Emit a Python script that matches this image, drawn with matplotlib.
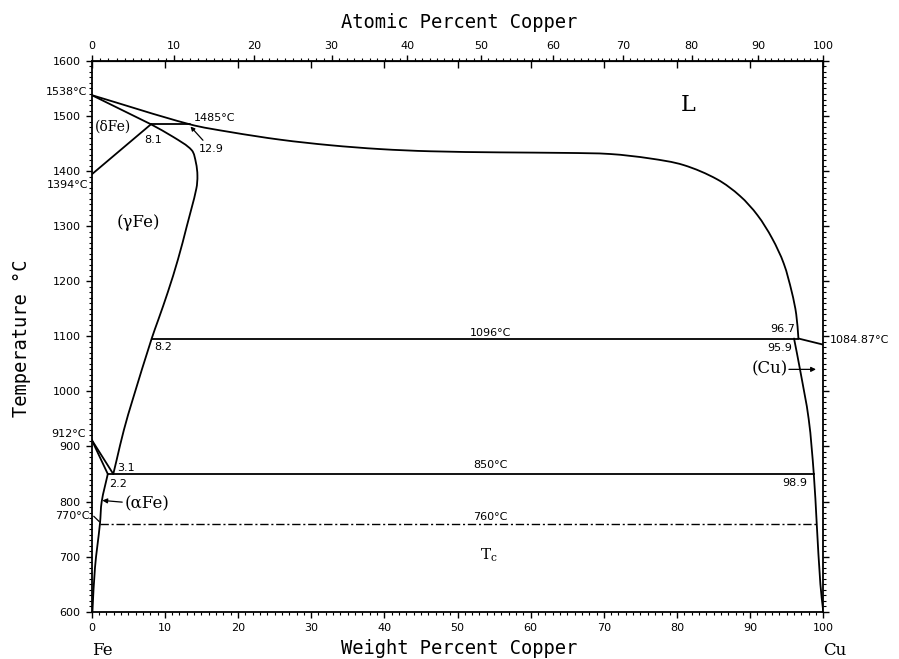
import numpy as np
import matplotlib
matplotlib.use("Agg")
import matplotlib.pyplot as plt
from matplotlib.path import Path
from matplotlib.patches import PathPatch
from matplotlib.ticker import FixedLocator, MultipleLocator
from matplotlib.transforms import blended_transform_factory

# ---- phase boundaries (weight % Cu, temperature C) ----
liq_wt = [0, 13.4, 18.9, 25.8, 32.6, 39.4, 46.3, 55.8, 65.0, 70.9, 76.3,
          80.9, 85.5, 88.6, 91.0, 93.0, 94.6, 95.7, 96.3, 96.6]
liq_T = [1538, 1485, 1471, 1457, 1447, 1440, 1436, 1434, 1433, 1431, 1423,
         1411, 1385, 1355, 1320, 1278, 1232, 1180, 1140, 1096]

cu_melt_wt = [96.6, 100]
cu_melt_T = [1096, 1084.87]

cu_solvus_wt = [96.0, 96.8, 98.0, 98.7, 99.1, 99.6, 100]
cu_solvus_T = [1096, 1041, 950, 850, 760, 650, 600]

gamma_wt = [8.1, 11.15, 13.67, 14.25, 14.45, 14.3, 13.0, 11.8, 10.4, 9.1,
            8.2, 5.6, 4.4, 3.4, 2.95]
gamma_T = [1485, 1462, 1438, 1415, 1392, 1368, 1300, 1240, 1180, 1130,
           1096, 985, 930, 875, 850]

delta_sol_wt = [0, 8.1]
delta_sol_T = [1538, 1485]
delta_solvus_wt = [0, 8.1]
delta_solvus_T = [1394, 1485]
peritectic_wt = [8.1, 13.4]
peritectic_T = [1485, 1485]

alpha_upper_wt = [0, 2.2]
alpha_upper_T = [912, 850]
gamma_lower_wt = [0, 2.95]
gamma_lower_T = [912, 850]

alpha_solvus_wt = [2.2, 1.37, 1.13, 0.45, 0.1]
alpha_solvus_T = [850, 800, 760, 680, 600]

line_1096_wt = [8.2, 96.6]
line_850_wt = [2.2, 98.7]
curie_wt = [1.13, 99.1]

wt_ticks = list(range(0, 101, 10))
at_ticks = list(range(0, 101, 10))
T_ticks = list(range(600, 1601, 100))

M_FE, M_CU = 55.845, 63.546


def wt_to_at(w):
    w = np.asarray(w, dtype=float)
    a = w / M_CU
    b = (100 - w) / M_FE
    return 100 * a / (a + b)


def at_to_wt(x):
    x = np.asarray(x, dtype=float)
    a = x * M_CU
    b = (100 - x) * M_FE
    return 100 * a / (a + b)


def smooth_curve(ax, xs, ys, **kw):
    # cubic Bezier segments through the read points, tangents from
    # neighbouring points with chord-length spacing (measured on screen scale)
    p = np.column_stack([xs, ys]).astype(float)
    scr = p * np.array([7.31, 0.551])
    d = np.hypot(*np.diff(scr, axis=0).T)
    t = np.concatenate([[0], np.cumsum(d)])
    n = len(p)
    m = np.zeros_like(p)
    for i in range(n):
        a, b = max(i - 1, 0), min(i + 1, n - 1)
        m[i] = (p[b] - p[a]) / (t[b] - t[a])
    verts = [p[0]]
    codes = [Path.MOVETO]
    for i in range(n - 1):
        h = t[i + 1] - t[i]
        verts += [p[i] + m[i] * h / 3, p[i + 1] - m[i + 1] * h / 3, p[i + 1]]
        codes += [Path.CURVE4] * 3
    ax.add_patch(PathPatch(Path(verts, codes), fill=False, **kw))


fig = plt.figure(figsize=(8.99, 6.59), dpi=100)
ax = fig.add_axes([0.102, 0.0718, 0.8138, 0.8357])
ax.set_xlim(0, 100)
ax.set_ylim(600, 1600)

LW = 1.3
K = "black"
for xs, ys in [(liq_wt, liq_T), (cu_solvus_wt, cu_solvus_T),
               (gamma_wt, gamma_T), (alpha_solvus_wt, alpha_solvus_T)]:
    smooth_curve(ax, xs, ys, edgecolor=K, lw=LW, capstyle="round",
                 joinstyle="round")

for xs, ys in [(cu_melt_wt, cu_melt_T),
               (delta_sol_wt, delta_sol_T), (delta_solvus_wt, delta_solvus_T),
               (peritectic_wt, peritectic_T), (alpha_upper_wt, alpha_upper_T),
               (gamma_lower_wt, gamma_lower_T)]:
    ax.plot(xs, ys, color=K, lw=LW, solid_capstyle="round")

ax.plot(line_1096_wt, [1096, 1096], color=K, lw=LW)
ax.plot(line_850_wt, [850, 850], color=K, lw=LW)
ax.plot(curie_wt, [760, 760], color=K, lw=1.0, dashes=(6, 2, 1.5, 2))
# small marker from 770 label toward alpha boundary
ax.plot([0.3, 1.0], [773, 764], color=K, lw=0.9, clip_on=False)

# ---- axes styling ----
for s in ax.spines.values():
    s.set_linewidth(1.3)

ax.set_xticks(wt_ticks)
ax.xaxis.set_minor_locator(MultipleLocator(1))
ax.set_yticks(T_ticks)
ax.yaxis.set_minor_locator(MultipleLocator(10))
ax.tick_params(axis="x", which="major", direction="out", length=4, width=1,
               labelsize=8, pad=4)
ax.tick_params(axis="x", which="minor", direction="out", length=2.5, width=0.8)
ax.tick_params(axis="y", which="major", direction="out", length=4, width=1,
               labelsize=8, pad=4, right=True)
ax.tick_params(axis="y", which="minor", direction="out", length=2, width=0.8,
               right=True)

# weight-percent ticks on top, pointing down
top_wt = ax.secondary_xaxis("top")
top_wt.set_xticks(wt_ticks)
top_wt.tick_params(axis="x", which="major", direction="in", length=5,
                   width=1, labeltop=False)
top_wt.xaxis.set_minor_locator(FixedLocator([]))

# atomic-percent scale on top
top_at = ax.secondary_xaxis("top", functions=(wt_to_at, at_to_wt))
top_at.set_xticks(at_ticks)
top_at.xaxis.set_minor_locator(FixedLocator(list(range(0, 101))))
top_at.tick_params(axis="x", which="major", direction="out", length=4,
                   width=1, labelsize=8, pad=3)
top_at.tick_params(axis="x", which="minor", direction="out", length=2.5,
                   width=0.8)

MONO = "DejaVu Sans Mono"
fig.text(0.511, 1 - 22 / 659, "Atomic Percent Copper", family=MONO,
         fontsize=13.5, ha="center", va="center")
fig.text(0.511, 1 - 648 / 659, "Weight Percent Copper", family=MONO,
         fontsize=13.5, ha="center", va="center")
fig.text(22 / 899, 1 - 338 / 659, "Temperature °C", family=MONO,
         fontsize=13.5, ha="center", va="center", rotation=90)

# ---- annotations ----
SER = "DejaVu Serif"
fs = 8
ax.text(81.5, 1520, "L", family=SER, fontsize=16, ha="center", va="center")
ax.text(0.45, 1480, "(δFe)", family=SER, fontsize=10, ha="left", va="center")
ax.text(3.45, 1306, "(γFe)", family=SER, fontsize=12, ha="left", va="center")
ax.text(95.2, 1041, "(Cu)", family=SER, fontsize=12, ha="right", va="center")
ax.annotate("(αFe)", xy=(1.45, 802), xytext=(4.55, 795), family=SER,
            fontsize=12, ha="left", va="center",
            arrowprops=dict(arrowstyle="-|>", lw=0.9, color=K,
                            mutation_scale=7, shrinkA=0, shrinkB=0))
ax.annotate("", xy=(99.0, 1040), xytext=(95.3, 1040),
            arrowprops=dict(arrowstyle="-|>", lw=0.9, color=K,
                            mutation_scale=7, shrinkA=0, shrinkB=0))
ax.annotate("12.9", xy=(13.5, 1481), xytext=(14.6, 1440), fontsize=fs,
            ha="left", va="center",
            arrowprops=dict(arrowstyle="-|>", lw=0.9, color=K,
                            mutation_scale=6, shrinkA=1, shrinkB=0))
ax.text(13.9, 1497, "1485°C", fontsize=fs, ha="left", va="center")
ax.text(8.4, 1456, "8.1", fontsize=fs, ha="center", va="center")
ax.text(8.6, 1080, "8.2", fontsize=fs, ha="left", va="center")
ax.text(3.5, 861, "3.1", fontsize=fs, ha="left", va="center")
ax.text(2.4, 831, "2.2", fontsize=fs, ha="left", va="center")
ax.text(96.1, 1113, "96.7", fontsize=fs, ha="right", va="center")
ax.text(95.8, 1078, "95.9", fontsize=fs, ha="right", va="center")
ax.text(97.8, 833, "98.9", fontsize=fs, ha="right", va="center")
ax.text(54.5, 1106, "1096°C", fontsize=fs, ha="center", va="center")
ax.text(54.5, 867, "850°C", fontsize=fs, ha="center", va="center")
ax.text(54.5, 772, "760°C", fontsize=fs, ha="center", va="center")
ax.text(54.3, 703, "T$_\\mathregular{c}$", family=SER, fontsize=11,
        ha="center", va="center")
ax.text(100.9, 1093, "1084.87°C", fontsize=fs, ha="left", va="center",
        clip_on=False)

# labels just outside the left axis
ax.text(-0.6, 1544, "1538°C", fontsize=fs, ha="right", va="center")
ax.text(-0.45, 1374, "1394°C", fontsize=fs, ha="right", va="center")
ax.text(-0.8, 922, "912°C", fontsize=fs, ha="right", va="center")
ax.text(-0.3, 773, "770°C", fontsize=fs, ha="right", va="center")

trans = blended_transform_factory(ax.transData, ax.transAxes)
ax.text(0, -0.07, "Fe", family=SER, fontsize=12, ha="left", va="center",
        transform=trans)
ax.text(100, -0.07, "Cu", family=SER, fontsize=12, ha="left", va="center",
        transform=trans)

fig.savefig("out.png", dpi=100, facecolor="white")
